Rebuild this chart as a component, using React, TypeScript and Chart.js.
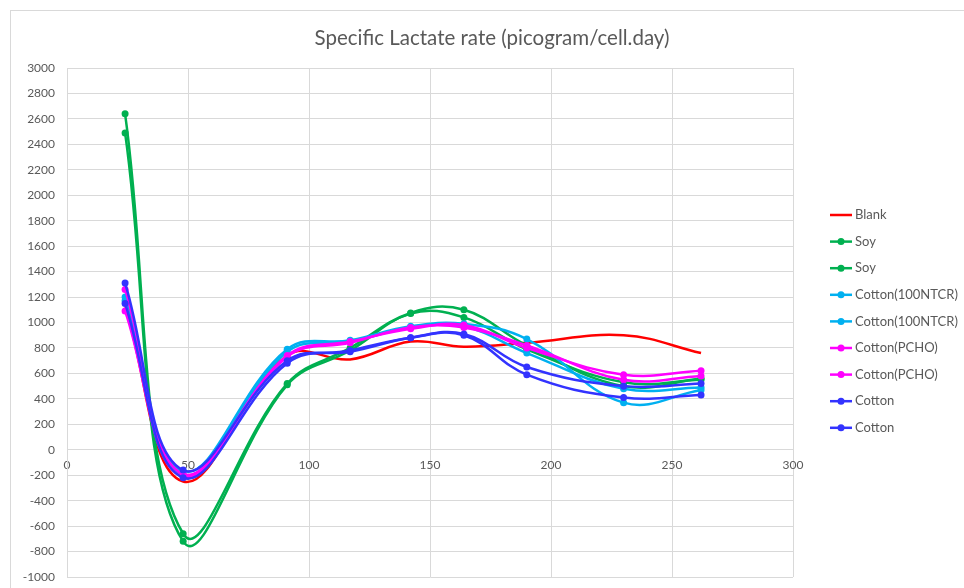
import React, { useEffect, useRef } from "react";
import { Chart, registerables } from "chart.js";

Chart.register(...registerables);

const title = "Specific Lactate rate (picogram/cell.day)";
const xValues = [24, 48, 91, 117, 142, 164, 190, 230, 262];
const seriesNames = [
  "Blank",
  "Soy",
  "Soy",
  "Cotton(100NTCR)",
  "Cotton(100NTCR)",
  "Cotton(PCHO)",
  "Cotton(PCHO)",
  "Cotton",
  "Cotton",
];
const blank = [1120, -250, 740, 710, 850, 810, 840, 900, 760];
const soy1 = [2640, -660, 520, 800, 1075, 1100, 820, 500, 560];
const soy2 = [2490, -720, 510, 780, 1070, 1040, 790, 530, 550];
const ntcr1 = [1200, -170, 790, 860, 970, 990, 870, 370, 470];
const ntcr2 = [1170, -200, 770, 850, 960, 970, 760, 480, 490];
const pcho1 = [1260, -190, 740, 850, 950, 980, 800, 590, 620];
const pcho2 = [1090, -210, 730, 840, 960, 960, 820, 550, 580];
const cotton1 = [1310, -160, 700, 770, 880, 910, 650, 500, 520];
const cotton2 = [1150, -220, 680, 780, 880, 900, 590, 410, 430];
const seriesValues = [blank, soy1, soy2, ntcr1, ntcr2, pcho1, pcho2, cotton1, cotton2];
const seriesColors = [
  "#ff0000",
  "#00b050",
  "#00b050",
  "#00b0f0",
  "#00b0f0",
  "#ff00ff",
  "#ff00ff",
  "#3333ff",
  "#3333ff",
];
const yTicksMin = -1000;
const yTicksMax = 3000;
const yStep = 200;
const xTicksMin = 0;
const xTicksMax = 300;
const xStep = 50;

const TEXT = "#595959";
const GRID = "#d9d9d9";
const FONT = "Lato, 'Open Sans', sans-serif";

export default function App() {
  const ref = useRef<HTMLCanvasElement>(null);
  useEffect(() => {
    if (!ref.current) return;
    const decor = {
      id: "decor",
      afterDraw(chart: any) {
        const ctx = chart.ctx;
        ctx.save();
        ctx.fillStyle = TEXT;
        ctx.font = `20.5px ${FONT}`;
        ctx.textAlign = "center";
        ctx.textBaseline = "middle";
        ctx.fillText(title, 481, 27);
        ctx.font = `13px ${FONT}`;
        ctx.textAlign = "left";
        seriesNames.forEach((name, i) => {
          const y = 204 + i * 26.6;
          ctx.strokeStyle = seriesColors[i];
          ctx.lineWidth = 2.5;
          ctx.beginPath();
          ctx.moveTo(819, y);
          ctx.lineTo(841, y);
          ctx.stroke();
          if (i > 0) {
            ctx.fillStyle = seriesColors[i];
            ctx.beginPath();
            ctx.arc(830, y, 3.5, 0, Math.PI * 2);
            ctx.fill();
          }
          ctx.fillStyle = TEXT;
          ctx.fillText(name, 844, y);
        });
        ctx.restore();
      },
    };
    const chart = new Chart(ref.current, {
      type: "line",
      data: {
        datasets: seriesNames.map((name, i) => ({
          label: name,
          data: xValues.map((x, j) => ({ x, y: seriesValues[i][j] })),
          borderColor: seriesColors[i],
          backgroundColor: seriesColors[i],
          borderWidth: 2.5,
          pointRadius: i === 0 ? 0 : 3.5,
          pointHoverRadius: i === 0 ? 0 : 3.5,
          pointBorderWidth: 0,
          tension: 0.4,
          fill: false,
          order: seriesNames.length - i,
        })),
      },
      options: {
        animation: false,
        responsive: false,
        events: [],
        layout: { padding: { top: 57, right: 171, bottom: 11, left: 0 } },
        plugins: {
          legend: { display: false },
          title: { display: false },
          tooltip: { enabled: false },
        },
        scales: {
          x: {
            type: "linear",
            position: { y: 0 } as any,
            min: xTicksMin,
            max: xTicksMax,
            ticks: {
              stepSize: xStep,
              color: TEXT,
              font: { family: FONT, size: 12 },
              padding: 8,
              callback: (v: any) => String(v),
            },
            grid: { color: GRID, lineWidth: 1, drawTicks: false },
            border: { color: GRID, width: 1 },
          },
          y: {
            type: "linear",
            min: yTicksMin,
            max: yTicksMax,
            ticks: {
              stepSize: yStep,
              color: TEXT,
              font: { family: FONT, size: 12 },
              padding: 12,
              callback: (v: any) => String(v),
            },
            grid: { color: GRID, lineWidth: 1, drawTicks: false },
            border: { color: GRID, width: 1 },
            afterFit(scale: any) {
              scale.width = 56;
              scale.paddingTop = 0;
              scale.paddingBottom = 0;
            },
          },
        },
      },
      plugins: [decor],
    });
    return () => chart.destroy();
  }, []);
  return (
    <div
      style={{
        position: "absolute",
        left: 10,
        top: 10,
        width: 954,
        height: 578,
        borderLeft: `1px solid ${GRID}`,
        borderTop: `1px solid ${GRID}`,
        boxSizing: "border-box",
        background: "#fff",
      }}
    >
      <canvas ref={ref} width={953} height={577} style={{ display: "block" }} />
    </div>
  );
}
